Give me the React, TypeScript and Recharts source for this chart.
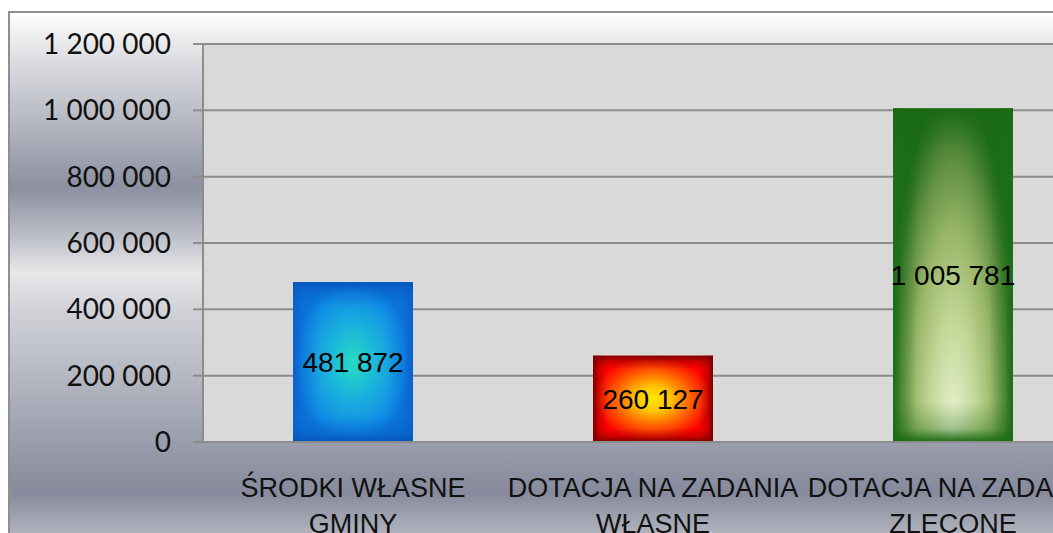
import React from "react";
import {
  BarChart,
  Bar,
  XAxis,
  YAxis,
  CartesianGrid,
  LabelList,
} from "recharts";

const categories = [
  "ŚRODKI WŁASNE GMINY",
  "DOTACJA NA ZADANIA WŁASNE",
  "DOTACJA NA ZADANIA ZLECONE",
];
const values = [481872, 260127, 1005781];
const yTicks = [0, 200000, 400000, 600000, 800000, 1000000, 1200000];
const edgeTicks = [0, 1, 2, 3];

const data = categories.map((name, i) => ({ name, value: values[i] }));

const GRID = "#8c8c8c";

const fmt = (v: number) =>
  String(v).replace(/\B(?=(\d{3})+(?!\d))/g, " ");

function CategoryTick(props: any) {
  const { x, y, payload } = props;
  const text = String(payload.value);
  const cut = text.lastIndexOf(" ");
  const lines = [text.slice(0, cut), text.slice(cut + 1)];
  return (
    <g>
      {lines.map((line, i) => (
        <text
          key={i}
          x={x}
          y={y + 55 + i * 35.5}
          textAnchor="middle"
          fill="#111"
          fontSize={27}
          fontFamily="'Liberation Sans', Arial, sans-serif"
        >
          {line}
        </text>
      ))}
    </g>
  );
}

// edge shading used on top of each bar's base gradient
function EdgeGrad({ id, color, dir, a, b }: any) {
  const vert = dir === "v";
  return (
    <linearGradient id={id} x1="0" y1="0" x2={vert ? 0 : 1} y2={vert ? 1 : 0}>
      <stop offset="0" stopColor={color} stopOpacity={1} />
      <stop offset={a} stopColor={color} stopOpacity={0.35} />
      <stop offset={b} stopColor={color} stopOpacity={0} />
      <stop offset={1 - b} stopColor={color} stopOpacity={0} />
      <stop offset={1 - a} stopColor={color} stopOpacity={0.35} />
      <stop offset="1" stopColor={color} stopOpacity={1} />
    </linearGradient>
  );
}

function FancyBar(props: any) {
  const { x, y, width, height, index } = props;
  const id = `bar${index}`;
  let defs;
  if (index === 0) {
    defs = (
      <defs>
        <radialGradient id={`${id}b`} cx="0.5" cy="0.5" r="0.5">
          <stop offset="0" stopColor="#26dcc2" />
          <stop offset="0.45" stopColor="#1ab2dc" />
          <stop offset="0.85" stopColor="#108ce6" />
          <stop offset="1" stopColor="#0b78dc" />
        </radialGradient>
        <EdgeGrad id={`${id}h`} color="#0a62cc" dir="h" a={0.08} b={0.22} />
        <EdgeGrad id={`${id}v`} color="#0656bc" dir="v" a={0.06} b={0.16} />
      </defs>
    );
  } else if (index === 1) {
    defs = (
      <defs>
        <radialGradient id={`${id}b`} cx="0.5" cy="0.5" r="0.5">
          <stop offset="0" stopColor="#ffe800" />
          <stop offset="0.3" stopColor="#ffc200" />
          <stop offset="0.62" stopColor="#ff6400" />
          <stop offset="0.9" stopColor="#ff1800" />
          <stop offset="1" stopColor="#ff0000" />
        </radialGradient>
        <EdgeGrad id={`${id}h`} color="#7a0000" dir="h" a={0.05} b={0.12} />
        <EdgeGrad id={`${id}v`} color="#7a0000" dir="v" a={0.07} b={0.16} />
      </defs>
    );
  } else {
    defs = (
      <defs>
        <radialGradient
          id={`${id}b`}
          cx="0.5"
          cy="1"
          r="0.5"
          gradientTransform="translate(0.5 1) scale(1.15 2.1) translate(-0.5 -1)"
        >
          <stop offset="0" stopColor="#eef5d8" />
          <stop offset="0.35" stopColor="#c2d796" />
          <stop offset="0.6" stopColor="#98b668" />
          <stop offset="0.8" stopColor="#5f8f40" />
          <stop offset="0.93" stopColor="#2f7424" />
          <stop offset="1" stopColor="#1c6c16" />
        </radialGradient>
        <EdgeGrad id={`${id}h`} color="#1b6f16" dir="h" a={0.07} b={0.2} />
        <EdgeGrad id={`${id}v`} color="#1a6a12" dir="v" a={0.04} b={0.12} />
      </defs>
    );
  }
  return (
    <g>
      {defs}
      <rect x={x} y={y} width={width} height={height} fill={`url(#${id}b)`} />
      <rect x={x} y={y} width={width} height={height} fill={`url(#${id}h)`} />
      <rect x={x} y={y} width={width} height={height} fill={`url(#${id}v)`} />
    </g>
  );
}

export default function App() {
  return (
    <div
      style={{
        position: "absolute",
        left: 0,
        top: 0,
        width: 1053,
        height: 533,
        overflow: "hidden",
        background: "#fff",
      }}
    >
      <div
        style={{
          position: "absolute",
          left: 8,
          top: 11,
          border: "2px solid #8f8f8f",
          background:
            "linear-gradient(to bottom, #ffffff 0px, #f4f4f5 15px, #d9dbdf 50px, #b5b8c1 110px, #8c90a1 175px, #b8bbc4 220px, #e8e8ea 260px, #cfd1d6 300px, #aeb1bc 380px, #9599a9 440px, #868a9c 480px, #b0b3bd 520px, #c8cad1 560px)",
        }}
      >
        <BarChart
          width={1113}
          height={560}
          data={data}
          margin={{ top: 31, right: 20, bottom: 0, left: 0 }}
          barCategoryGap="30%"
        >
          <CartesianGrid
            vertical={false}
            stroke={GRID}
            strokeWidth={2}
            fill="#d9d9d9"
            fillOpacity={1}
          />
          <XAxis
            xAxisId="edge"
            type="number"
            domain={[0, 3]}
            ticks={edgeTicks}
            allowDataOverflow
            height={0}
            tick={false}
            tickSize={10}
            axisLine={false}
            tickLine={{ stroke: GRID, strokeWidth: 2 }}
          />
          <XAxis
            dataKey="name"
            height={131}
            interval={0}
            tickSize={0}
            tickMargin={0}
            tickLine={false}
            axisLine={{ stroke: GRID, strokeWidth: 2 }}
            tick={<CategoryTick />}
          />
          <YAxis
            width={193}
            domain={[0, 1200000]}
            ticks={yTicks}
            tickFormatter={fmt}
            tickSize={10}
            tickMargin={22}
            axisLine={{ stroke: GRID, strokeWidth: 2 }}
            tickLine={{ stroke: GRID, strokeWidth: 2 }}
            tick={{
              fill: "#111",
              fontSize: 28,
              fontFamily: "Lato, 'Open Sans', sans-serif",
            }}
          />
          <Bar dataKey="value" shape={<FancyBar />} isAnimationActive={false}>
            <LabelList
              dataKey="value"
              position="center"
              formatter={(v: any) => fmt(Number(v))}
              fill="#000"
              fontSize={28}
              fontFamily="'Liberation Sans', Arial, sans-serif"
            />
          </Bar>
        </BarChart>
      </div>
    </div>
  );
}
